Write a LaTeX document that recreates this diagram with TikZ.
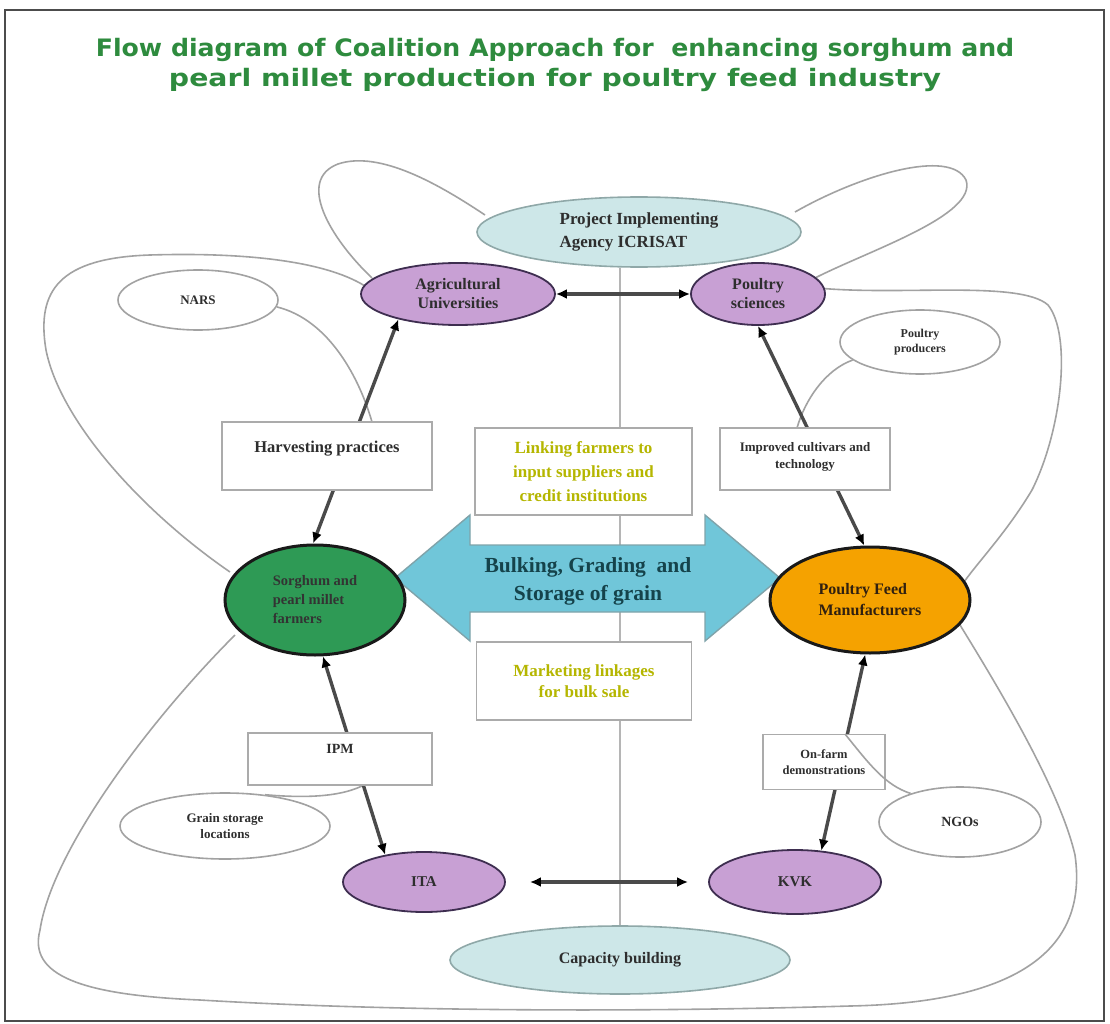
\documentclass[tikz,border=0pt]{standalone}
\usepackage{fontspec}
\setmainfont{Liberation Serif}
\newfontfamily\titlefont{DejaVu Sans}
\usetikzlibrary{shapes.geometric,arrows.meta,backgrounds}
\definecolor{ttlgreen}{HTML}{2E8B3E}
\definecolor{lcyan}{HTML}{CDE7E8}
\definecolor{cyanbd}{HTML}{8FA8A8}
\definecolor{purp}{HTML}{C8A0D4}
\definecolor{purpbd}{HTML}{3E2E50}
\definecolor{fgreen}{HTML}{2E9A55}
\definecolor{forange}{HTML}{F5A200}
\definecolor{arrblue}{HTML}{70C6D9}
\definecolor{arrbd}{HTML}{7FA3AA}
\definecolor{arrtext}{HTML}{15434B}
\definecolor{ytext}{HTML}{B5B600}
\definecolor{hullgray}{HTML}{A2A2A2}
\definecolor{connc}{HTML}{4A4A4A}
\definecolor{txt}{HTML}{2E2E2E}
\tikzset{
  ttl/.style={font=\titlefont\bfseries\fontsize{24}{28}\selectfont, text=ttlgreen, inner sep=0pt},
  cyanell/.style={ellipse, fill=lcyan, draw=cyanbd, line width=1.6pt, inner sep=0pt, text=txt},
  purpell/.style={ellipse, fill=purp, draw=purpbd, line width=1.8pt, inner sep=0pt, text=txt},
  satell/.style={ellipse, fill=white, draw=hullgray, line width=1.6pt, inner sep=0pt, text=txt},
  boxs/.style={rectangle, fill=white, draw=hullgray!90, line width=1.6pt, inner sep=0pt, text=txt},
  hull/.style={draw=hullgray, line width=1.6pt},
  conn/.style={draw=connc, line width=3.4pt, {Latex[color=black,length=11pt,width=10pt]}-{Latex[color=black,length=11pt,width=10pt]}},
  vline/.style={draw=hullgray!80, line width=1.8pt},
}
\begin{document}
\begin{tikzpicture}[x=1pt,y=-1pt]
\useasboundingbox (0,0) rectangle (1110,1024);

% title
\node[ttl] (t1) at (555,50) {\scalebox{1.05}[1]{Flow diagram of Coalition Approach for\ \ enhancing sorghum and}};
\node[ttl] (t2) at (555,80) {\scalebox{1.18}[1]{pearl millet production for poultry feed industry}};

% nodes
\node[cyanell, minimum width=324pt, minimum height=70pt, align=left, font=\bfseries\fontsize{17}{23}\selectfont] (proj) at (639,232) {Project Implementing\\Agency ICRISAT};
\node[purpell, minimum width=194pt, minimum height=62pt, align=center, font=\bfseries\fontsize{16}{19}\selectfont] (ag) at (458,294) {Agricultural\\Universities};
\node[purpell, minimum width=134pt, minimum height=62pt, align=center, font=\bfseries\fontsize{16}{19}\selectfont] (ps) at (758,294) {Poultry\\sciences};
\node[satell, minimum width=160pt, minimum height=60pt, font=\bfseries\fontsize{13}{16}\selectfont] (nars) at (198,300) {NARS};
\node[satell, minimum width=160pt, minimum height=64pt, align=center, font=\bfseries\fontsize{12}{15}\selectfont] (pp) at (920,342) {Poultry\\producers};

\node[boxs, minimum width=210pt, text height=30pt, text depth=38pt, font=\bfseries\fontsize{16.5}{20}\selectfont] (harv) at (327,456) {Harvesting practices};
\node[boxs, minimum width=217pt, minimum height=87pt, align=center, text=ytext, font=\bfseries\fontsize{17}{24}\selectfont] (link) at (583.5,471.5) {Linking farmers to\\input suppliers and\\credit institutions};
\node[boxs, minimum width=170pt, minimum height=62pt, align=center, font=\bfseries\fontsize{13}{17}\selectfont] (impr) at (805,459) {Improved cultivars and\\technology\\[-10pt]\mbox{}};

% big double arrow
\draw[fill=arrblue, draw=arrbd, line width=1.4pt] (395,578) -- (470,515) -- (470,545) -- (705,545) -- (705,515) -- (780,578) -- (705,641) -- (705,612) -- (470,612) -- (470,641) -- cycle;
\node[align=center, text=arrtext, font=\bfseries\fontsize{21.5}{28}\selectfont] (bulk) at (588,581) {Bulking, Grading\ \ and\\Storage of grain};

\node[ellipse, fill=fgreen, draw=black!90, line width=3pt, minimum width=180pt, minimum height=110pt, inner sep=0pt, align=left, text=black!80, font=\bfseries\fontsize{14.5}{19}\selectfont] (farm) at (315,600) {Sorghum and\\pearl millet\\farmers};
\node[ellipse, fill=forange, draw=black!90, line width=3pt, minimum width=200pt, minimum height=106pt, inner sep=0pt, align=left, text=black!75!brown, font=\bfseries\fontsize{16}{21}\selectfont] (pfm) at (870,600) {Poultry Feed\\Manufacturers};

\node[boxs, minimum width=215pt, minimum height=78pt, align=center, text=ytext, font=\bfseries\fontsize{17}{21}\selectfont] (mkt) at (584,681) {Marketing linkages\\for bulk sale};
\node[boxs, minimum width=184pt, text height=20pt, text depth=32pt, font=\bfseries\fontsize{14}{16}\selectfont] (ipm) at (340,759) {IPM};
\node[boxs, minimum width=122pt, minimum height=55pt, align=center, font=\bfseries\fontsize{12.5}{16}\selectfont] (onf) at (824,762) {On-farm\\demonstrations};

\node[satell, minimum width=210pt, minimum height=66pt, align=center, font=\bfseries\fontsize{13}{16}\selectfont] (gsl) at (225,826) {Grain storage\\locations};
\node[satell, minimum width=162pt, minimum height=70pt, font=\bfseries\fontsize{14}{16}\selectfont] (ngo) at (960,822) {NGOs};
\node[purpell, minimum width=162pt, minimum height=60pt, font=\bfseries\fontsize{15}{18}\selectfont] (ita) at (424,882) {ITA};
\node[purpell, minimum width=172pt, minimum height=64pt, font=\bfseries\fontsize{15}{18}\selectfont] (kvk) at (795,882) {KVK};
\node[cyanell, minimum width=340pt, minimum height=68pt, font=\bfseries\fontsize{16}{18}\selectfont] (cap) at (620,960) {Capacity building};

% tie crossing the on-farm box
\draw[hull] (845,734) .. controls (870,765) and (885,785) .. (ngo.150);

\begin{scope}[on background layer]
\fill[white] (0,0) rectangle (1110,1024);
\draw[black!70, line width=1.2pt] (5,10) rectangle (1104,1021);
% outer hull
\draw[hull] (372,278) .. controls (330,238) and (296,180) .. (338,164)
  .. controls (380,150) and (440,185) .. (485,215);
\draw[hull] (795,212) .. controls (860,175) and (950,148) .. (966,180)
  .. controls (978,215) and (870,250) .. (815,278);
\draw[hull] (818,288) .. controls (900,296) and (1020,280) .. (1048,305)
  .. controls (1072,335) and (1062,430) .. (1032,490)
  .. controls (1005,535) and (975,565) .. (962,585);
\draw[hull] (960,625) .. controls (1000,690) and (1060,790) .. (1075,855)
  .. controls (1090,960) and (1000,1003) .. (850,1006)
  .. controls (650,1012) and (400,1012) .. (200,1000)
  .. controls (80,995) and (28,975) .. (40,930)
  .. controls (52,850) and (150,720) .. (235,635);
\draw[hull] (230,572) .. controls (140,510) and (60,420) .. (46,350)
  .. controls (36,290) and (60,258) .. (150,255)
  .. controls (250,252) and (330,262) .. (368,288);
% satellite ties
\draw[hull] (nars.-5) .. controls (330,320) and (360,380) .. (372,422);
\draw[hull] (pp.195) .. controls (825,370) and (805,400) .. (797,428);
\draw[hull] (gsl.38) .. controls (325,800) and (350,792) .. (364,785);
% vertical line
\draw[vline] (cap.north |- proj.south) -- (cap.north);
% connectors
\draw[conn] (ag.east) -- (ps.west);
\draw[conn] (ag.203) -- (farm.92);
\draw[conn] (ps.270) -- (pfm.96);
\draw[conn] (farm.278) -- (ita.145);
\draw[conn] (pfm.265) -- (kvk.50);
\draw[conn, shorten <=24pt, shorten >=20pt] (ita.east) -- (kvk.west);
\end{scope}
\end{tikzpicture}
\end{document}
